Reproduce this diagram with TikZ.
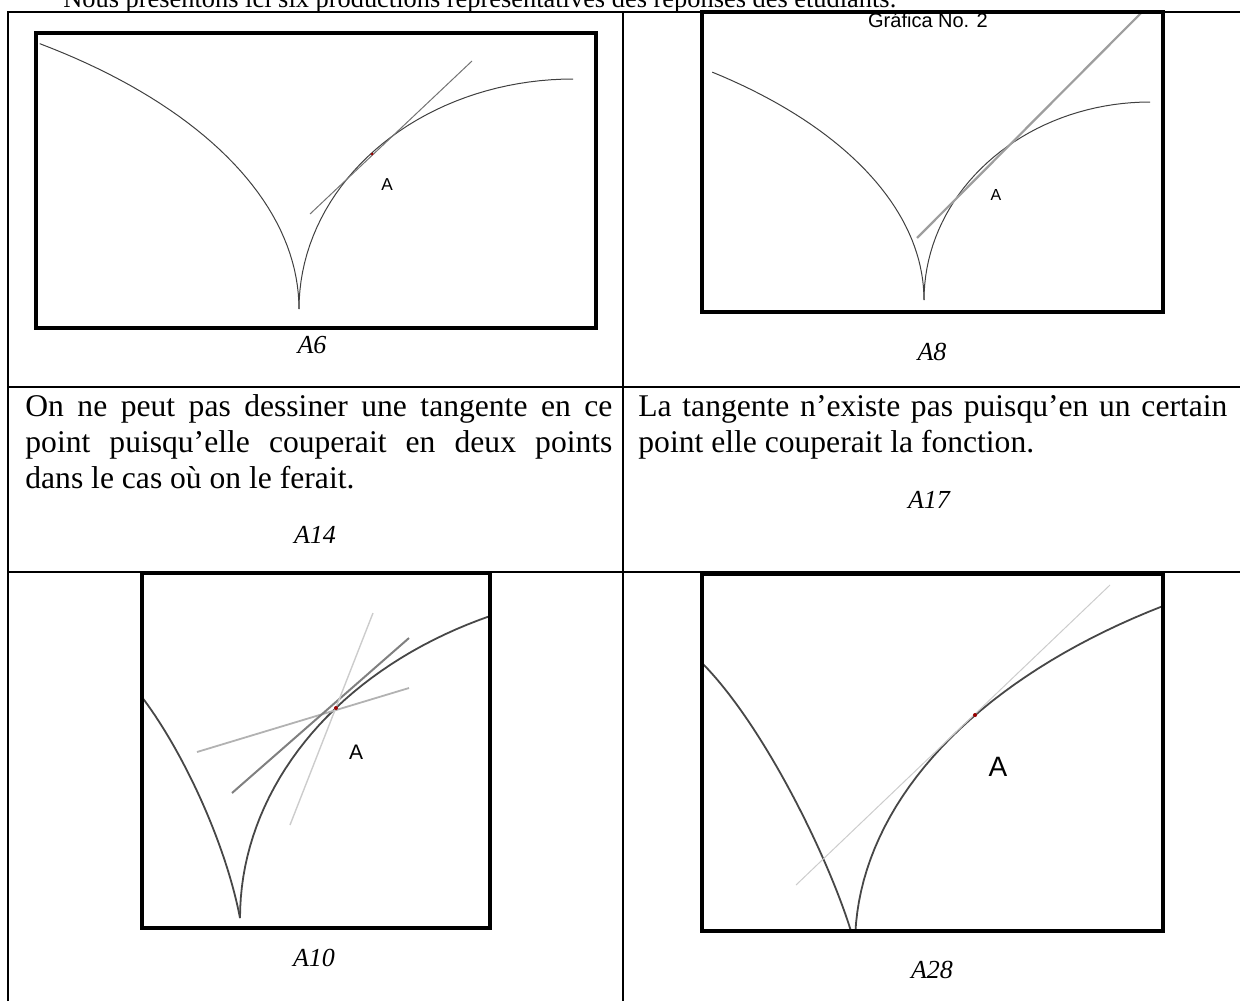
\documentclass[tikz,border=0pt]{standalone}
\usepackage{fontspec}
\setmainfont{Liberation Serif}
\newfontfamily\grafont{Liberation Sans}

\begin{document}
\begin{tikzpicture}[x=0.5pt,y=-0.5pt,
    grille/.style={line width=1pt},
    cadre/.style={line width=1.6pt},
    courbe/.style={black!75,line width=0.5pt},
    courbeb/.style={black!72,line width=0.9pt},
    tangente/.style={line width=#1},
    pointA/.style={fill=red!60!black},
    lettre/.style={font=\grafont\fontsize{#1}{#1}\selectfont},
    legende/.style={font=\fontsize{13}{15}\selectfont\itshape},
    texte/.style={anchor=base west,inner sep=0pt,font=\fontsize{15.8}{18}\selectfont}]
  \useasboundingbox (0,0) rectangle (1240,1001);

  % phrase coupee en haut de la page
  \node[texte,font=\fontsize{13.2}{16}\selectfont] (titre) at (63,8) {Nous présentons ici six productions représentatives des réponses des étudiants.};

  % tableau
  \draw[grille] (8,1001) -- (8,12) -- (1240,12);
  \draw[grille] (623,12) -- (623,1001);
  \foreach \y in {387,572}
    \draw[grille] (8,\y) -- (1240,\y);

  % A6
  \coordinate (c6) at (299,309);
  \begin{scope}
    \clip (36,33) rectangle (596,328);
    \draw[courbe] plot[domain=0:54,samples=40,variable=\t] ({299-629*(1-cos(\t))},{309-328*sin(\t)});
    \draw[courbe] plot[domain=0:90,samples=40,variable=\t] ({299+274*(1-cos(\t))},{309-230*sin(\t)});
    \draw[black!55,tangente=0.5pt] (310,214) -- (472,61);
    \fill[pointA] (372,154) circle[radius=1.5];
  \end{scope}
  \draw[cadre] (36,33) rectangle (596,328);
  \node[lettre=8.6] (p6) at (387,185) {A};
  \node[legende] (l6) at (312,345) {A6};

  % A8
  \coordinate (c8) at (924,300);
  \begin{scope}
    \clip (702,12) rectangle (1163,312);
    \draw[courbe] plot[domain=0:52.3,samples=40,variable=\t] ({924-545*(1-cos(\t))},{300-288*sin(\t)});
    \draw[courbe] plot[domain=0:90,samples=40,variable=\t] ({924+226*(1-cos(\t))},{300-198*sin(\t)});
    \draw[black!38,tangente=1.1pt] (917,238) -- (1150,4);
  \end{scope}
  \draw[cadre] (702,12) rectangle (1163,312);
  \node[lettre=10] (g2) at (928,20) {Gráfica No. 2};
  \node[lettre=8] (p8) at (996,195) {A};
  \node[legende] (l8) at (932,352) {A8};

  % deuxieme ligne : les phrases
  \node[texte] (g1) at (25,416) {\makebox[293.5pt][s]{On ne peut pas dessiner une tangente en ce}};
  \node[texte] (g2l) at (25,452) {\makebox[293.5pt][s]{point puisqu’elle couperait en deux points}};
  \node[texte] (g3l) at (25,488) {dans le cas où on le ferait.};
  \node[legende] (l14) at (315,535) {A14};
  \node[texte] (d1) at (638,416) {\makebox[294.5pt][s]{La tangente n’existe pas puisqu’en un certain}};
  \node[texte] (d2) at (638,452) {point elle couperait la fonction.};
  \node[legende] (l17) at (929,500) {A17};

  % A10
  \coordinate (c10) at (240,918);
  \begin{scope}
    \clip (142,573) rectangle (490,928);
    \draw[courbeb] (138,692) .. controls (180,745) and (225,840) .. (c10);
    \draw[courbeb] plot[domain=0:70,samples=40,variable=\t] ({240+419*(1-cos(\t))},{918-330*sin(\t)});
    \draw[black!30,tangente=0.9pt] (197,752) -- (409,688);
    \draw[black!50,tangente=1pt] (232,793) -- (409,638);
    \draw[black!20,tangente=0.7pt] (290,825) -- (373,613);
    \fill[pointA] (336,708) circle[radius=2];
  \end{scope}
  \draw[cadre] (142,573) rectangle (490,928);
  \node[lettre=10.5] (p10) at (356,752) {A};
  \node[legende] (l10) at (314,958) {A10};

  % A28
  \coordinate (c28) at (855,945);
  \begin{scope}
    \clip (702,574) rectangle (1163,931);
    \draw[courbeb] (700,661) .. controls (765,725) and (835,870) .. (c28);
    \draw[courbeb] plot[domain=0:60,samples=40,variable=\t] ({855+680*(1-cos(\t))},{945-405*sin(\t)});
    \draw[black!20,tangente=0.5pt] (796,885) -- (1110,585);
    \fill[pointA] (975,715) circle[radius=2];
  \end{scope}
  \draw[cadre] (702,574) rectangle (1163,931);
  \node[lettre=14] (p28) at (998,767) {A};
  \node[legende] (l28) at (932,970) {A28};
\end{tikzpicture}
\end{document}
